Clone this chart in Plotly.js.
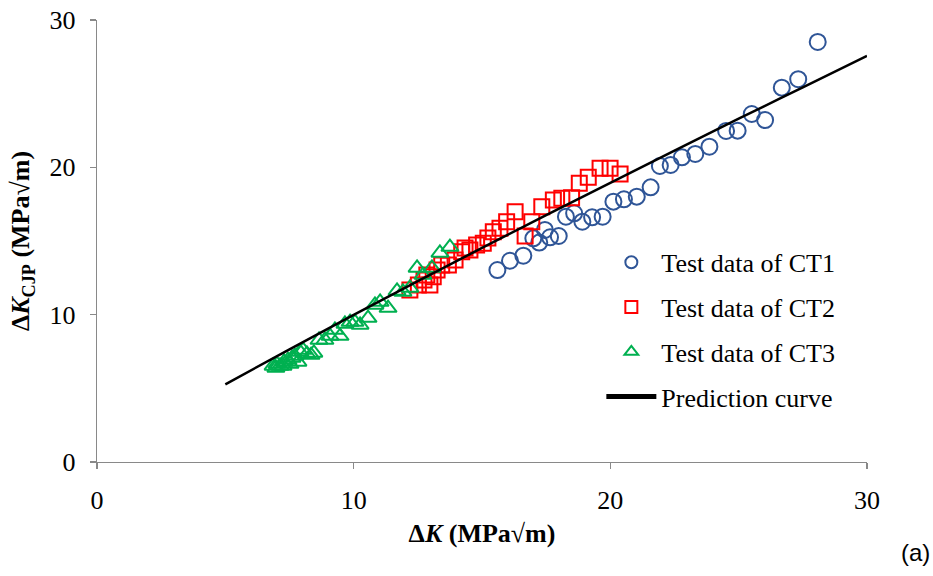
<!DOCTYPE html>
<html>
<head>
<meta charset="utf-8">
<script src="https://cdn.plot.ly/plotly-3.0.1.min.js"></script>
<style>html,body{margin:0;padding:0;background:#fff;}#chart{width:933px;height:576px;}</style>
</head>
<body>
<div id="chart"></div>
<script>
// CT1 test data (ΔK, ΔK_CJP)
const ct1X = [15.60,16.09,16.61,17.00,17.23,17.45,17.65,17.99,18.27,18.59,18.91,19.29,19.70,20.12,20.53,21.03,21.57,21.93,22.35,22.79,23.31,23.86,24.51,24.96,25.51,26.03,26.68,27.32,28.08];
const ct1Y = [13.03,13.66,14.00,15.18,14.89,15.75,15.25,15.34,16.65,16.88,16.31,16.61,16.65,17.67,17.83,18.01,18.64,20.09,20.16,20.68,20.91,21.40,22.47,22.49,23.62,23.21,25.41,25.98,28.51];

// CT2 test data
const ct2X = [12.19,12.52,12.97,12.85,13.10,12.74,13.25,13.43,13.69,13.95,14.21,14.34,14.53,14.79,15.05,15.23,15.44,15.70,15.96,16.29,16.68,16.94,17.33,17.78,18.11,18.49,18.79,19.14,19.60,19.99,20.38];
const ct2Y = [11.67,12.01,12.01,12.69,12.58,12.35,13.03,13.37,13.37,13.71,14.27,14.53,14.39,14.73,14.84,15.20,15.63,15.86,16.31,16.99,15.34,16.31,17.33,17.78,17.90,17.94,18.92,19.32,19.93,19.93,19.55];

// CT3 test data
const ct3X = [6.86,6.97,7.01,7.13,7.25,7.29,7.44,7.52,7.60,7.71,7.83,7.91,8.03,8.18,8.34,8.45,8.65,8.88,9.08,9.27,9.47,9.66,9.86,10.05,10.25,10.56,10.83,11.03,11.34,11.69,11.92,12.19,12.47,12.70,13.05,13.36,13.75];
const ct3Y = [6.52,6.38,6.65,6.52,6.52,6.79,6.92,6.65,7.06,7.19,6.79,7.47,7.60,7.33,7.26,7.40,8.28,8.28,8.55,8.96,8.55,9.37,9.50,9.50,9.30,9.77,10.66,10.86,10.45,11.61,11.54,11.81,13.17,12.69,13.17,14.19,14.59];

// Prediction curve
const predX = [5,7.5,10,12.5,15,17.5,20,22.5,25,27.5,30];
const predY = [5.27,7.65,9.99,12.28,14.53,16.75,18.95,21.13,23.30,25.43,27.56];

const serif = '"Times New Roman", "Liberation Serif", serif';

const traces = [
  {x: ct1X, y: ct1Y, type: 'scatter', mode: 'markers', name: 'Test data of CT1', legendgroup: 'a',
   marker: {symbol: 'circle-open', size: 16, color: '#2F5597', line: {width: 2, color: '#2F5597'}}},
  {x: ct2X, y: ct2Y, type: 'scatter', mode: 'markers', name: 'Test data of CT2', legendgroup: 'b',
   marker: {symbol: 'square-open', size: 15, color: '#FF0000', line: {width: 2, color: '#FF0000'}}},
  {x: ct3X, y: ct3Y, type: 'scatter', mode: 'markers', name: 'Test data of CT3', legendgroup: 'c',
   marker: {symbol: 'triangle-up-open', size: 15, color: '#00B050', line: {width: 2, color: '#00B050'}}},
  {x: predX, y: predY, type: 'scatter', mode: 'lines', name: 'Prediction curve', legendgroup: 'd',
   line: {color: '#000000', width: 2.5, shape: 'spline'}}
];

const axisCommon = {
  range: [0, 30], tickvals: [0, 10, 20, 30], showgrid: false, zeroline: false,
  showline: true, linecolor: '#898989', linewidth: 1.3,
  ticks: 'outside', ticklen: 6, tickcolor: '#898989', tickwidth: 1.3,
  tickfont: {family: serif, size: 26, color: '#000'}
};

const layout = {
  width: 933, height: 576,
  margin: {l: 97, r: 66, t: 20, b: 114},
  paper_bgcolor: '#fff', plot_bgcolor: '#fff',
  font: {family: serif, size: 26, color: '#000'},
  showlegend: true,
  legend: {x: 0.655, y: 0.505, xanchor: 'left', yanchor: 'top', font: {family: serif, size: 26, color: '#000'},
           bgcolor: 'rgba(0,0,0,0)', traceorder: 'grouped', tracegroupgap: 8, itemsizing: 'constant', itemwidth: 50},
  xaxis: Object.assign({}, axisCommon, {
    ticklabelstandoff: 8,
    title: {text: '<b>Δ<i>K</i> (MPa√m)</b>', font: {family: serif, size: 26, color: '#000'}, standoff: 10}
  }),
  yaxis: Object.assign({}, axisCommon, {
    ticklabelstandoff: 9,
    title: {text: '<b>Δ<i>K</i><sub>CJP</sub> (MPa√m)</b>', font: {family: serif, size: 26, color: '#000'}, standoff: 12}
  }),
  annotations: [{
    text: '(a)', xref: 'paper', yref: 'paper', x: 1.063, y: -0.205, xanchor: 'center', yanchor: 'middle',
    showarrow: false, font: {family: '"Liberation Sans", Arial, sans-serif', size: 24, color: '#000'}
  }]
};

Plotly.newPlot('chart', traces, layout, {displayModeBar: false, staticPlot: true});
</script>
</body>
</html>
